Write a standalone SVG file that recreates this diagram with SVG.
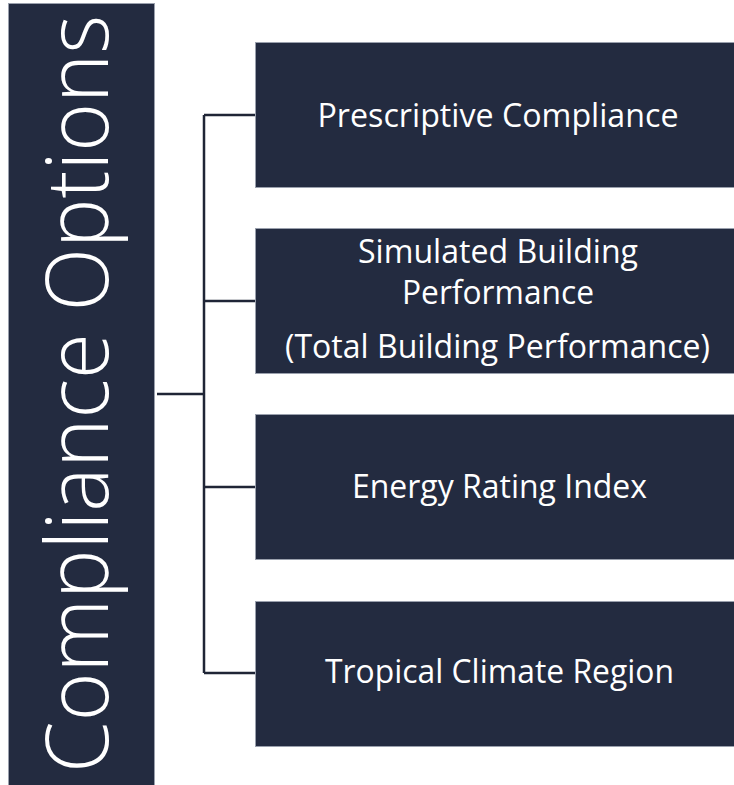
<svg xmlns="http://www.w3.org/2000/svg" width="734" height="785" viewBox="0 0 734 785">
  <style>
    .box { fill: #232B40; stroke: #9aa0ad; stroke-width: 1; }
    .lbl { fill: #ffffff; font-family: "Open Sans", "Liberation Sans", sans-serif; font-size: 32px; text-anchor: middle; }
    .title { fill: #ffffff; font-family: "Open Sans", "Liberation Sans", sans-serif; font-weight: 300; font-size: 86px; text-anchor: middle; }
    .conn { fill: none; stroke: #1f2536; stroke-width: 2.5; }
  </style>
  <rect x="0" y="0" width="734" height="785" fill="#ffffff"/>
  <g id="title">
    <rect class="box" x="8.5" y="3.5" width="146" height="790"/>
    <text class="title" transform="translate(108,394) rotate(-90)" x="0" y="0" textLength="758" lengthAdjust="spacingAndGlyphs">Compliance Options</text>
  </g>
  <g id="connectors">
    <path class="conn" d="M157 394 H204"/>
    <path class="conn" d="M204 115 V673"/>
    <path class="conn" d="M204 115 H256"/>
    <path class="conn" d="M204 301 H256"/>
    <path class="conn" d="M204 487 H256"/>
    <path class="conn" d="M204 673 H256"/>
  </g>
  <g id="prescriptive">
    <rect class="box" x="255.5" y="42.5" width="490" height="145"/>
    <text class="lbl" x="498" y="127" textLength="361" lengthAdjust="spacingAndGlyphs">Prescriptive Compliance</text>
  </g>
  <g id="simulated">
    <rect class="box" x="255.5" y="228.5" width="490" height="145"/>
    <text class="lbl" x="498" y="263" textLength="280" lengthAdjust="spacingAndGlyphs">Simulated Building</text>
    <text class="lbl" x="498" y="304" textLength="192" lengthAdjust="spacingAndGlyphs">Performance</text>
    <text class="lbl" x="497.5" y="358" textLength="425" lengthAdjust="spacingAndGlyphs">(Total Building Performance)</text>
  </g>
  <g id="energy">
    <rect class="box" x="255.5" y="414.5" width="490" height="145"/>
    <text class="lbl" x="499.5" y="498" textLength="295" lengthAdjust="spacingAndGlyphs">Energy Rating Index</text>
  </g>
  <g id="tropical">
    <rect class="box" x="255.5" y="601.5" width="490" height="145"/>
    <text class="lbl" x="499.5" y="683" textLength="349" lengthAdjust="spacingAndGlyphs">Tropical Climate Region</text>
  </g>
</svg>
